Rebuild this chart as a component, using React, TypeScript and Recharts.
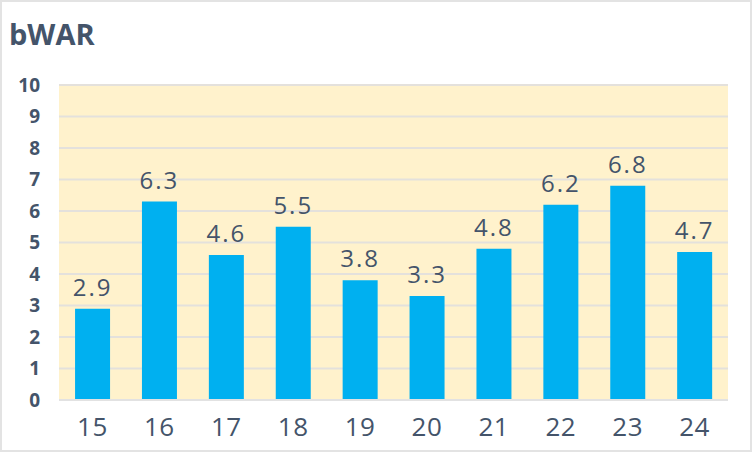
import React from "react";
import { BarChart, Bar, XAxis, YAxis, CartesianGrid, LabelList } from "recharts";

const seasons = ["15", "16", "17", "18", "19", "20", "21", "22", "23", "24"];
const bwar = [2.9, 6.3, 4.6, 5.5, 3.8, 3.3, 4.8, 6.2, 6.8, 4.7];
const yTicks = [0, 1, 2, 3, 4, 5, 6, 7, 8, 9, 10];

const data = seasons.map((s, i) => ({ season: s, value: bwar[i] }));

const FONT = "'Open Sans', 'Noto Sans', sans-serif";
const TEXT = "#44546a";

export default function App() {
  return (
    <div
      style={{
        position: "absolute",
        left: 0,
        top: 0,
        width: 752,
        height: 452,
        boxSizing: "border-box",
        border: "2px solid #e3e3e3",
        background: "#ffffff",
        fontFamily: FONT,
      }}
    >
      <div
        style={{
          position: "absolute",
          left: 7,
          top: 12,
          fontSize: 29,
          fontWeight: 700,
          color: TEXT,
          lineHeight: "40px",
        }}
      >
        bWAR
      </div>
      <BarChart
        width={748}
        height={448}
        data={data}
        margin={{ top: 83, right: 22, bottom: 0, left: 0 }}
        barCategoryGap="24%"
      >
        <CartesianGrid vertical={false} stroke="#e4e1dc" strokeWidth={2} fill="#fff2cc" fillOpacity={1} />
        <XAxis
          dataKey="season"
          height={50}
          tickLine={false}
          axisLine={{ stroke: "#e2e2e2", strokeWidth: 2 }}
          tick={{ fill: TEXT, fontSize: 26, fontFamily: FONT, letterSpacing: 0.5 }}
          tickMargin={12}
        />
        <YAxis
          domain={[0, 10]}
          ticks={yTicks}
          interval={0}
          width={57}
          axisLine={false}
          tickLine={false}
          tickSize={0}
          tickMargin={19}
          tick={{ fill: TEXT, fontSize: 19, fontWeight: 700, fontFamily: FONT }}
        />
        <Bar dataKey="value" fill="#00b0f0" isAnimationActive={false}>
          <LabelList
            dataKey="value"
            position="top"
            offset={13}
            formatter={(v: number) => v.toFixed(1)}
            style={{ fill: TEXT, fontSize: 24, fontFamily: FONT, letterSpacing: 2 }}
          />
        </Bar>
      </BarChart>
    </div>
  );
}
